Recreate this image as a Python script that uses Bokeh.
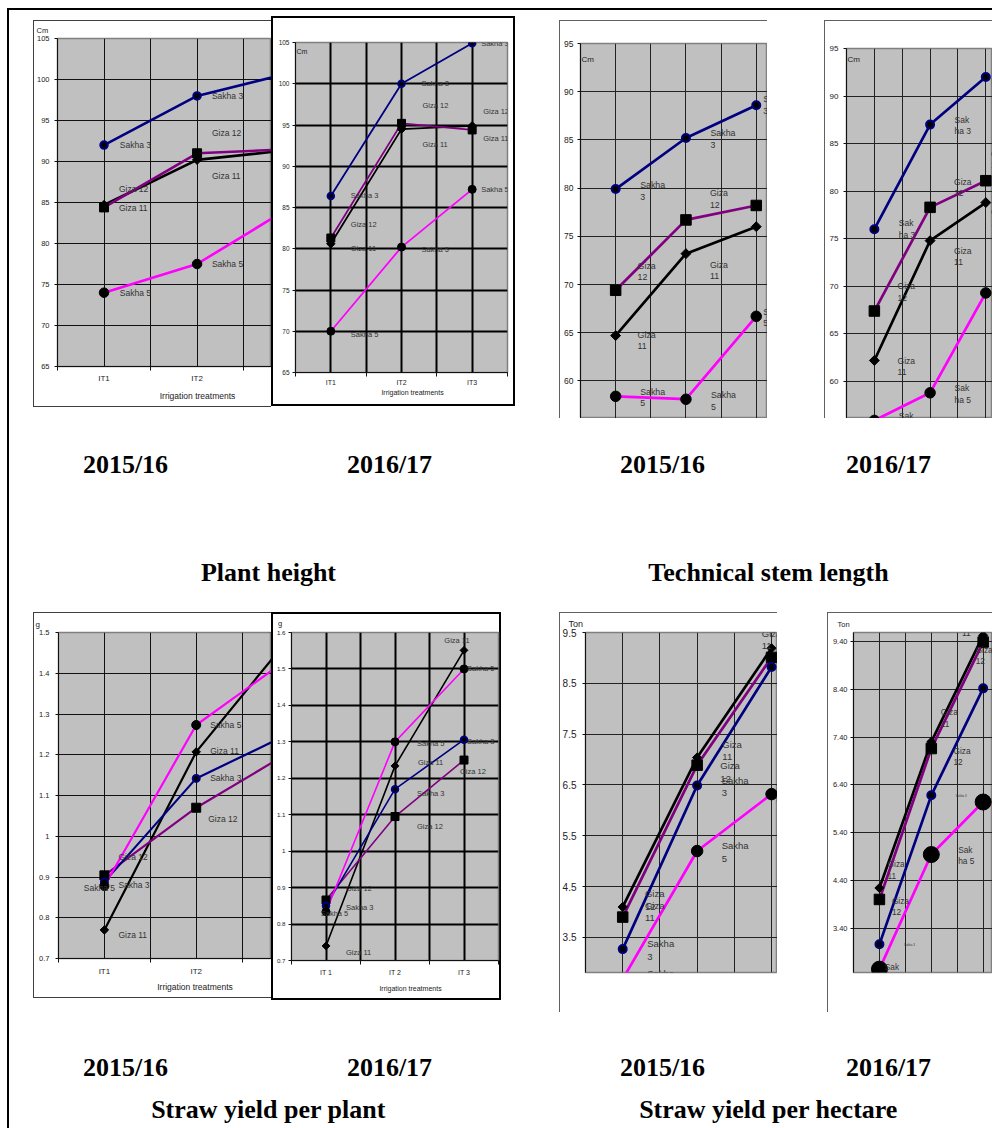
import numpy as np
from bokeh.plotting import figure
from bokeh.models import (Range1d, FixedTicker, LinearAxis, Grid, LabelSet, Label, Title,
                          ColumnDataSource, Spacer, PrintfTickFormatter, BasicTickFormatter)
from bokeh.layouts import row, column
from bokeh.core.properties import value, field
from bokeh.embed import file_html
from bokeh.resources import INLINE

# ---------------------------------------------------------------- data
treatments = ["IT1", "IT2", "IT3"]
treatment_x = [1, 2, 3]
draw_order = ["Giza 11", "Giza 12", "Sakha 3", "Sakha 5"]

# Plant height (cm)
plant_height_1516 = {"Sakha 3": [92.0, 98.0, 100.8], "Giza 12": [84.4, 91.0, 91.5],
                     "Giza 11": [84.7, 90.2, 91.4], "Sakha 5": [74.0, 77.5, 84.4]}
plant_height_1617 = {"Sakha 3": [86.4, 100.0, 104.9], "Giza 12": [81.3, 95.2, 94.4],
                     "Giza 11": [80.6, 94.5, 94.9], "Sakha 5": [70.0, 80.2, 87.2]}
# Technical stem length (cm)
stem_length_1516 = {"Sakha 3": [79.9, 85.2, 88.6], "Giza 12": [69.4, 76.7, 78.2],
                    "Giza 11": [64.7, 73.2, 76.0], "Sakha 5": [58.4, 58.1, 66.7]}
stem_length_1617 = {"Sakha 3": [76.0, 87.0, 92.0], "Giza 12": [67.4, 78.3, 81.1],
                    "Giza 11": [62.2, 74.8, 78.8], "Sakha 5": [55.9, 58.8, 69.3]}
# Straw yield per plant (g)
straw_plant_1516 = {"Sakha 3": [0.888, 1.142, 1.250], "Giza 12": [0.904, 1.070, 1.204],
                    "Giza 11": [0.770, 1.207, 1.483], "Sakha 5": [0.878, 1.273, 1.435]}
straw_plant_1617 = {"Sakha 3": [0.850, 1.170, 1.306], "Giza 12": [0.866, 1.095, 1.250],
                    "Giza 11": [0.740, 1.234, 1.551], "Sakha 5": [0.834, 1.300, 1.500]}
# Straw yield per hectare (ton)
straw_hectare_1516 = {"Sakha 3": [3.27, 6.49, 8.82], "Giza 12": [3.90, 6.89, 9.01],
                      "Giza 11": [4.10, 7.04, 9.19], "Sakha 5": [2.68, 5.20, 6.32]}
straw_hectare_1617 = {"Sakha 3": [3.06, 6.18, 8.42], "Giza 12": [4.00, 7.16, 9.39],
                      "Giza 11": [4.24, 7.30, 9.53], "Sakha 5": [2.54, 4.94, 6.04]}

height_ticks = [65, 70, 75, 80, 85, 90, 95, 100, 105]
stem_ticks = [60, 65, 70, 75, 80, 85, 90, 95]
plant_ticks_1516 = [0.7, 0.8, 0.9, 1.0, 1.1, 1.2, 1.3, 1.4, 1.5]
plant_ticks_1617 = [0.7, 0.8, 0.9, 1.0, 1.1, 1.2, 1.3, 1.4, 1.5, 1.6]
hectare_ticks_1516 = [3.5, 4.5, 5.5, 6.5, 7.5, 8.5, 9.5]
hectare_ticks_1617 = [3.4, 4.4, 5.4, 6.4, 7.4, 8.4, 9.4]

# ---------------------------------------------------------------- styles
SANS_NAME = "Liberation Sans"
SANS = value(SANS_NAME)
SERIF = value("Liberation Serif")
ARIAL_EM = {"Irrigation treatments": 8.892}

SERIES = {
    "Sakha 3": dict(line="#000080", marker="circle", fill="black", edge="#000080", edge_w=2.0, angle=0.0),
    "Giza 12": dict(line="#800080", marker="square", fill="black", edge="black", edge_w=1.0, angle=0.0),
    "Giza 11": dict(line="black", marker="square", fill="black", edge="black", edge_w=1.0, angle=np.pi / 4),
    "Sakha 5": dict(line="#FF00FF", marker="circle", fill="black", edge="black", edge_w=1.0, angle=0.0),
}

BOX_LT_B = "inset 1px 1px 0 0 #404040, inset 0 -1px 0 0 #404040"
BOX_ALL = "inset 0 0 0 2px #000000"
BOX_LT = "inset 1px 1px 0 0 #606060"


def label_text(name, fmt):
    if fmt == "one":
        return name
    if fmt == "two":
        return name.replace(" ", "\n")
    word, num = name.split(" ")
    if word == "Sakha":
        return "Sak\nha " + num
    return word + "\n" + num


# unit: (text, left px, mode, size, standoff, centre y) -- "title" sits above the frame, "inside" in it
PANELS = [
    dict(key="A", data=plant_height_1516, box=(33, 20, 238, 387), frame=(55, 37, 271, 371),
         xr=(0.5, 2.8), yr=(65, 105), yticks=height_ticks, yfmt=BasicTickFormatter(), yover={},
         tick_size="7.5px", standoff=5, css=BOX_LT_B, grid_w=1, grid_c="#111111", lw=2.6,
         ms={"Sakha 3": 7.5, "Giza 12": 9, "Giza 11": 6.5, "Sakha 5": 9.5},
         lab_size="8.5px", lab_fmt="one", xaxis=(8, 3), xtitle=("Irrigation treatments", 195, 8.5, 10),
         unit=("Cm", 34, "title", 7.5, 7, None),
         labels=[("Sakha 3", 0, 16, 0, "left"), ("Sakha 3", 1, 15, 0, "left"), ("Sakha 3", 2, 15, 0, "left"),
                 ("Giza 12", 0, 15, -19, "left"), ("Giza 12", 1, 15, -21, "left"), ("Giza 12", 2, 15, -21, "left"),
                 ("Giza 11", 0, 15, 3, "left"), ("Giza 11", 1, 15, 16, "left"), ("Giza 11", 2, 15, 16, "left"),
                 ("Sakha 5", 0, 16, 0, "left"), ("Sakha 5", 1, 15, 0, "left"), ("Sakha 5", 2, 15, 0, "left")]),
    dict(key="B", data=plant_height_1617, box=(271, 16, 244, 390), frame=(295, 42, 507, 372),
         xr=(0.5, 3.5), yr=(65, 105), yticks=height_ticks, yfmt=BasicTickFormatter(), yover={},
         tick_size="6.5px", standoff=3, css=BOX_ALL, grid_w=2, grid_c="#000000", lw=1.8,
         ms={"Sakha 3": 6.5, "Giza 12": 8, "Giza 11": 6, "Sakha 5": 8},
         lab_size="7.5px", lab_fmt="one", xaxis=(7, 2), xtitle=("Irrigation treatments", 412, 7, 0),
         unit=("Cm", 296, "inside", 7, 0, 51),
         labels=[("Sakha 3", 0, 20, 0, "left"), ("Sakha 3", 1, 20, 0, "left"), ("Sakha 3", 2, 9, 0, "left"),
                 ("Giza 12", 0, 20, -14, "left"), ("Giza 12", 1, 21, -18, "left"), ("Giza 12", 2, 11, -18, "left"),
                 ("Giza 11", 0, 20, 5, "left"), ("Giza 11", 1, 21, 15, "left"), ("Giza 11", 2, 11, 13, "left"),
                 ("Sakha 5", 0, 20, 3, "left"), ("Sakha 5", 1, 20, 2, "left"), ("Sakha 5", 2, 9, 0, "left")]),
    dict(key="C", data=stem_length_1516, box=(559, 20, 208, 398), frame=(580, 43, 767, 418),
         xr=(0.5, 3.16), yr=(56.1, 95), yticks=stem_ticks, yfmt=BasicTickFormatter(), yover={},
         tick_size="8.5px", standoff=4, css=BOX_LT, grid_w=1, grid_c="#222222", lw=2.7,
         ms={"Sakha 3": 8, "Giza 12": 10.5, "Giza 11": 7, "Sakha 5": 10.5},
         lab_size="8.8px", lab_fmt="two", xaxis=None, xtitle=None,
         unit=("Cm", 581, "inside", 8, 0, 59),
         labels=[("Sakha 3", 0, 37, 2, "center"), ("Sakha 3", 1, 37, 1, "center"), ("Sakha 3", 2, 19.5, 0, "center"),
                 ("Giza 12", 0, 31, -19, "center"), ("Giza 12", 1, 33, -21, "center"), ("Giza 12", 2, 21, -21, "center"),
                 ("Giza 11", 0, 31, 5, "center"), ("Giza 11", 1, 33, 17, "center"), ("Giza 11", 2, 21, 17, "center"),
                 ("Sakha 5", 0, 37, 1, "center"), ("Sakha 5", 1, 37.5, 2, "center"), ("Sakha 5", 2, 19.5, 1, "center")]),
    dict(key="D", data=stem_length_1617, box=(824, 20, 168, 398), frame=(846, 48, 992, 418),
         xr=(0.5, 3.12), yr=(56.1, 95), yticks=stem_ticks, yfmt=BasicTickFormatter(), yover={},
         tick_size="8px", standoff=5, css=BOX_LT, grid_w=1, grid_c="#222222", lw=2.7,
         ms={"Sakha 3": 8, "Giza 12": 10.5, "Giza 11": 7, "Sakha 5": 10.5},
         lab_size="8.5px", lab_fmt="split", xaxis=None, xtitle=None,
         unit=("Cm", 847, "inside", 8, 0, 59),
         labels=[("Sakha 3", 0, 32.7, 0, "center"), ("Sakha 3", 1, 32.7, 1, "center"), ("Sakha 3", 2, 14, 0, "center"),
                 ("Giza 12", 0, 32, -19, "center"), ("Giza 12", 1, 32.7, -20, "center"), ("Giza 12", 2, 14, -21, "center"),
                 ("Giza 11", 0, 32, 6, "center"), ("Giza 11", 1, 32.7, 16, "center"), ("Giza 11", 2, 14, 15, "center"),
                 ("Sakha 5", 0, 32.7, 1, "center"), ("Sakha 5", 1, 32.7, 1, "center"), ("Sakha 5", 2, 14, 0, "center")]),
    dict(key="E", data=straw_plant_1516, box=(33, 612, 238, 386), frame=(58, 629, 271, 964),
         xr=(0.5, 2.82), yr=(0.7, 1.5), yticks=plant_ticks_1516, yfmt=BasicTickFormatter(), yover={1.0: "1"},
         tick_size="7.5px", standoff=6, css=BOX_LT_B, grid_w=1, grid_c="#111111", lw=2.2,
         ms={"Sakha 3": 7, "Giza 12": 9, "Giza 11": 6, "Sakha 5": 9},
         lab_size="8.5px", lab_fmt="one", xaxis=(8, 4), xtitle=("Irrigation treatments", 194.5, 8.5, 7),
         unit=("g", 35, "title", 8, 7.5, None),
         labels=[("Sakha 5", 0, -5, 2, "center"), ("Sakha 5", 1, 14, 0, "left"), ("Sakha 5", 2, 3, 0, "left"),
                 ("Giza 11", 0, 14, 5, "left"), ("Giza 11", 1, 14, -1, "left"), ("Giza 11", 2, -6, -10, "center"),
                 ("Sakha 3", 0, 14, 3, "left"), ("Sakha 3", 1, 14, 0, "left"), ("Sakha 3", 2, 3, 2, "left"),
                 ("Giza 12", 0, 14, -19, "left"), ("Giza 12", 1, 12, 12, "left"), ("Giza 12", 2, -4, 12, "left")]),
    dict(key="F", data=straw_plant_1617, box=(271, 612, 230, 388), frame=(291, 630, 498, 961),
         xr=(0.5, 3.5), yr=(0.7, 1.6), yticks=plant_ticks_1617, yfmt=BasicTickFormatter(), yover={1.0: "1"},
         tick_size="6.2px", standoff=3, css=BOX_ALL, grid_w=2, grid_c="#000000", lw=1.6,
         ms={"Sakha 3": 6.5, "Giza 12": 8, "Giza 11": 5.5, "Sakha 5": 8},
         lab_size="7.5px", lab_fmt="one", xaxis=(7, 4), xtitle=("Irrigation treatments", 410, 7, 13),
         unit=("g", 277.5, "title", 7.5, 8.5, None),
         labels=[("Giza 11", 0, 20, 7, "left"), ("Giza 11", 1, 23, -3, "left"), ("Giza 11", 2, -7, -10, "center"),
                 ("Sakha 5", 0, 8.5, 2, "center"), ("Sakha 5", 1, 22, 2, "left"), ("Sakha 5", 2, 3, 0, "left"),
                 ("Sakha 3", 0, 20, 2, "left"), ("Sakha 3", 1, 22, 4, "left"), ("Sakha 3", 2, 3, 2, "left"),
                 ("Giza 12", 0, 20, -12, "left"), ("Giza 12", 1, 22, 10, "left"), ("Giza 12", 2, -4, 12, "left")]),
    dict(key="G", data=straw_hectare_1516, box=(559, 612, 218, 400), frame=(585, 631, 777, 1012),
         xr=(0.5, 3.08), yr=(2.81, 9.5), yticks=hectare_ticks_1516, yfmt=BasicTickFormatter(), yover={},
         tick_size="10px", standoff=6, css=BOX_LT, grid_w=1, grid_c="#222222", lw=2.7,
         ms={"Sakha 3": 8, "Giza 12": 10.5, "Giza 11": 6.5, "Sakha 5": 11.5},
         lab_size="9.5px", lab_fmt="two", xaxis=None, xtitle=None,
         unit=("Ton", 568, "title", 9, 7, None),
         labels=[("Giza 11", 0, 32, 5, "center"), ("Giza 11", 1, 35, -8, "center"), ("Giza 11", 2, 0, -10, "center"),
                 ("Giza 12", 0, 32, -19, "center"), ("Giza 12", 1, 33, 8, "center"), ("Giza 12", 2, 33, 8, "center"),
                 ("Sakha 3", 0, 38, 1, "center"), ("Sakha 3", 1, 38, 1, "center"), ("Sakha 3", 2, 38, 1, "center"),
                 ("Sakha 5", 0, 38, 1, "center"), ("Sakha 5", 1, 38, 1, "center"), ("Sakha 5", 2, 18, -2, "center")]),
    dict(key="H", data=straw_hectare_1617, box=(827, 612, 165, 400), frame=(853, 631, 992, 1012),
         xr=(0.5, 3.18), yr=(2.47, 9.59), yticks=hectare_ticks_1617, yfmt=PrintfTickFormatter(format="%.2f"), yover={},
         tick_size="7.5px", standoff=3, css=BOX_LT, grid_w=1, grid_c="#222222", lw=2.7,
         ms={"Sakha 3": 8, "Giza 12": 10.5, "Giza 11": 6.5, "Sakha 5": 16},
         lab_size="8.3px", lab_fmt="split", xaxis=None, xtitle=None,
         unit=("Ton", 837, "title", 7.5, 8, None),
         labels=[("Giza 11", 0, 16.7, -20, "center"), ("Giza 11", 1, 18, -27, "center"), ("Giza 11", 2, -12.7, -9, "center"),
                 ("Giza 12", 0, 21, 8, "center"), ("Giza 12", 1, 30.7, 9, "center"), ("Giza 12", 2, 1, 15, "center"),
                 ("Sakha 3", 0, 30, 0, "center", "3px", "one"), ("Sakha 3", 1, 30, 0, "center", "3px", "one"),
                 ("Sakha 3", 2, 30, 0, "center", "3px", "one"),
                 ("Sakha 5", 0, 13.4, 4, "center"), ("Sakha 5", 1, 35, 1, "center"), ("Sakha 5", 2, 35, 1, "center")]),
]


def text_left_edge(anchor_px, text, size_px, align):
    """Rough left edge of a label, used to skip labels that fall wholly past a cut panel edge."""
    width = max(len(line) for line in text.split("\n")) * 0.55 * size_px
    if align == "center":
        return anchor_px - width / 2
    return anchor_px


def build_panel(spec):
    bx, by, bw, bh = spec["box"]
    fl, ft, fr, fb = spec["frame"]
    x0, x1 = spec["xr"]
    y0, y1 = spec["yr"]
    ppx = (fr - fl) / (x1 - x0)
    ppy = (fb - ft) / (y1 - y0)

    def to_data(px, py):
        return x0 + (px - fl) / ppx, y1 - (py - ft) / ppy

    p = figure(width=bw, height=bh, x_range=Range1d(x0, x1), y_range=Range1d(y0, y1),
               x_axis_location=None, title_location=None, toolbar_location=None, output_backend="svg",
               min_border_left=fl - bx, min_border_right=bx + bw - fr,
               min_border_top=ft - by, min_border_bottom=by + bh - fb,
               background_fill_color="#C0C0C0", border_fill_color=None,
               outline_line_color="#808080", outline_line_width=1.5,
               styles={"background-color": "white", "box-shadow": spec["css"]})
    for g in p.grid:
        g.visible = False

    # category grid: centre lines and boundary lines
    xt = FixedTicker(ticks=treatment_x, minor_ticks=[0.5, 1.5, 2.5, 3.5])
    p.add_layout(Grid(dimension=0, ticker=xt, grid_line_color=spec["grid_c"], grid_line_width=spec["grid_w"],
                      minor_grid_line_color=spec["grid_c"], minor_grid_line_width=spec["grid_w"]))

    yt = FixedTicker(ticks=spec["yticks"], minor_ticks=[])
    yax = p.yaxis[0]
    yax.ticker = yt
    yax.formatter = spec["yfmt"]
    if spec["yover"]:
        yax.major_label_overrides = spec["yover"]
    yax.major_tick_out = 3
    yax.major_tick_in = 0
    yax.minor_tick_line_color = None
    yax.axis_line_color = "#111111"
    yax.major_tick_line_color = "#111111"
    yax.major_label_text_font = SANS_NAME
    yax.major_label_text_font_size = spec["tick_size"]
    yax.major_label_text_color = "#222222"
    yax.major_label_standoff = spec["standoff"]
    p.add_layout(Grid(dimension=1, ticker=yt, grid_line_color=spec["grid_c"], grid_line_width=spec["grid_w"]))

    if spec["xaxis"]:
        size, standoff = spec["xaxis"]
        labels = {1: treatments[0], 2: treatments[1], 3: treatments[2]}
        if spec["key"] == "F":
            labels = {k: v.replace("IT", "IT ") for k, v in labels.items()}
        ax = LinearAxis(ticker=xt, major_label_overrides=labels, major_tick_out=0, major_tick_in=0,
                        minor_tick_out=4, minor_tick_in=0, minor_tick_line_color="#111111",
                        axis_line_color="#111111", major_label_text_font=SANS_NAME,
                        major_label_text_font_size=f"{size}px", major_label_text_color="#222222",
                        major_label_standoff=standoff)
        p.add_layout(ax, "below")

    if spec["xtitle"]:
        ttext, tcx, tsize, tstand = spec["xtitle"]
        left = tcx - ARIAL_EM[ttext] * tsize / 2
        p.add_layout(Title(text=ttext, align="left", offset=left - fl, standoff=tstand,
                           vertical_align="top", text_font=SANS_NAME, text_font_size=f"{tsize}px",
                           text_font_style="normal", text_color="#222222"), "below")

    utext, upx, umode, usize, ustand, upy = spec["unit"]
    if umode == "title":
        p.add_layout(Title(text=utext, align="left", offset=upx - fl, standoff=ustand,
                           vertical_align="bottom", text_font=SANS_NAME, text_font_size=f"{usize}px",
                           text_font_style="normal", text_color="#222222"), "above")
    else:
        ux, uy = to_data(upx, upy)
        p.add_layout(Label(x=ux, y=uy, text=utext, text_font=SANS_NAME, text_font_size=f"{usize}px",
                           text_color="#222222", text_align="left", text_baseline="middle"))

    data = spec["data"]
    for name in draw_order:
        st = SERIES[name]
        p.line(treatment_x, data[name], line_color=st["line"], line_width=spec["lw"])
    for name in draw_order:
        st = SERIES[name]
        p.scatter(treatment_x, data[name], marker=st["marker"], size=spec["ms"][name], angle=st["angle"],
                  fill_color=st["fill"], line_color=st["edge"], line_width=st["edge_w"])

    cols = {"x": [], "y": [], "text": [], "align": [], "size": []}
    for lab in spec["labels"]:
        name, i, dx, dy, align = lab[:5]
        size = lab[5] if len(lab) > 5 else spec["lab_size"]
        fmt = lab[6] if len(lab) > 6 else spec["lab_fmt"]
        text = label_text(name, fmt)
        anchor_px = fl + (treatment_x[i] - x0) * ppx + dx
        if text_left_edge(anchor_px, text, float(size.rstrip("px")), align) >= bx + bw:
            continue  # lies entirely beyond the cut edge of the panel
        cols["x"].append(treatment_x[i] + dx / ppx)
        cols["y"].append(data[name][i] - dy / ppy)
        cols["text"].append(text)
        cols["align"].append(align)
        cols["size"].append(size)
    p.add_layout(LabelSet(x="x", y="y", text="text", source=ColumnDataSource(cols),
                          text_align=field("align"), text_font_size=field("size"),
                          text_baseline="middle", text_font=SANS, text_color="#333333",
                          text_line_height=1.15))
    return p


def panel_row(specs, top):
    children = []
    cursor = 9
    for spec in specs:
        bx, by, bw, bh = spec["box"]
        if bx > cursor:
            children.append(Spacer(width=bx - cursor, height=1))
        fig = build_panel(spec)
        if by > top:
            children.append(column(Spacer(width=bw, height=by - top), fig))
        else:
            children.append(fig)
        cursor = bx + bw
    return row(*children)


def caption_band(height, years_y, names, names_y):
    p = figure(width=983, height=height, x_range=Range1d(0, 983), y_range=Range1d(height, 0),
               x_axis_location=None, y_axis_location=None, title_location=None,
               toolbar_location=None, output_backend="svg",
               min_border=0, outline_line_color=None, background_fill_color=None, border_fill_color=None)
    for g in p.grid:
        g.visible = False
    p.text(x=[116, 380, 653, 879], y=[years_y] * 4, text=["2015/16", "2016/17", "2015/16", "2016/17"],
           text_font=SERIF, text_font_style="bold", text_font_size="26px", text_color="black",
           text_align="center", text_baseline="middle")
    p.text(x=[259, 759], y=[names_y] * 2, text=names,
           text_font=SERIF, text_font_style="bold", text_font_size="26px", text_color="black",
           text_align="center", text_baseline="middle")
    return p


top_row = panel_row(PANELS[:4], 10)
bottom_row = panel_row(PANELS[4:], 612)
band_top = caption_band(194, 46, ["Plant height", "Technical stem length"], 154)
band_bottom = caption_band(116, 55, ["Straw yield per plant", "Straw yield per hectare"], 96.5)

content = column(Spacer(width=983, height=2, styles={"background-color": "black"}),
                 top_row, band_top, bottom_row, band_bottom)
body = row(Spacer(width=7, height=1120),
           Spacer(width=2, height=1120, styles={"background-color": "black"}),
           content)
page = column(Spacer(width=992, height=8), body)

open("out.html", "w").write(file_html(page, INLINE))
